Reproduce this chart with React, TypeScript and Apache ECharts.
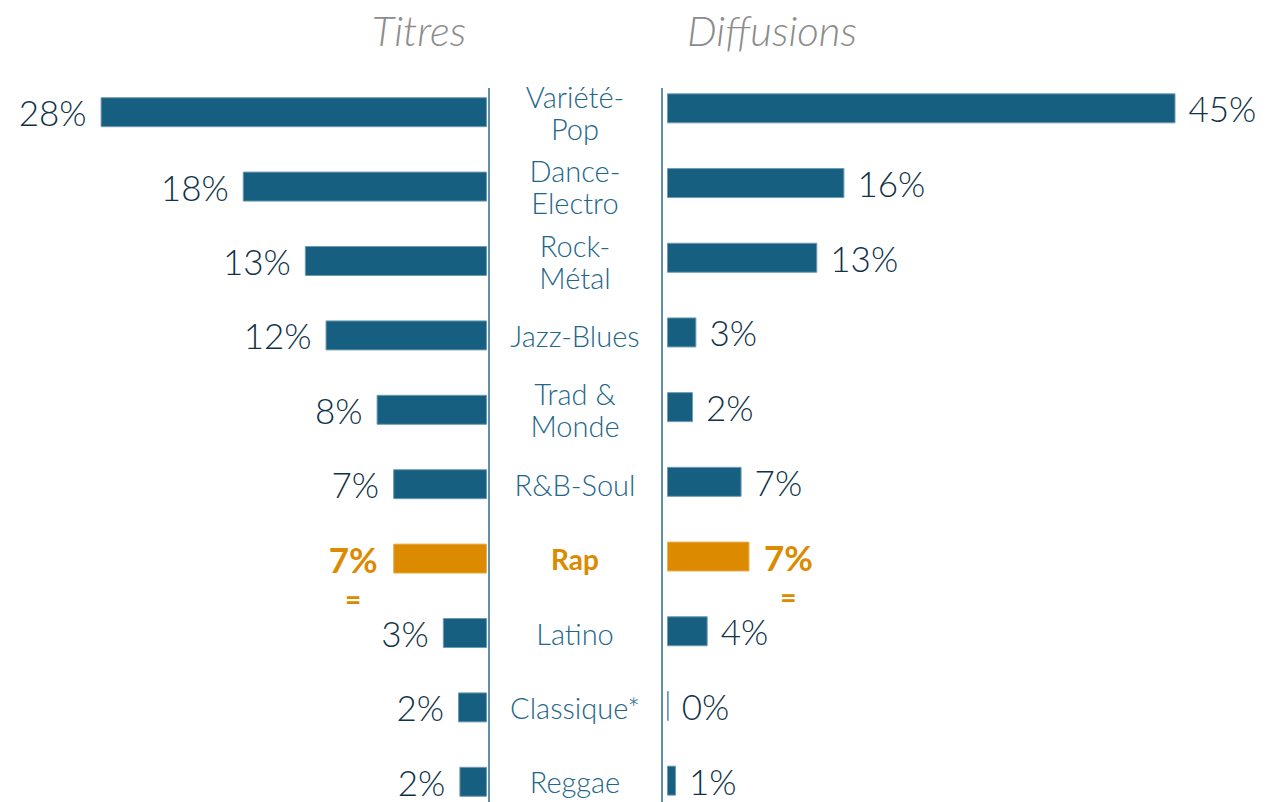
import React, { useEffect, useRef } from "react";
import * as echarts from "echarts";

const categories = [
  "Variété-\nPop",
  "Dance-\nElectro",
  "Rock-\nMétal",
  "Jazz-Blues",
  "Trad &\nMonde",
  "R&B-Soul",
  "Rap",
  "Latino",
  "Classique*",
  "Reggae",
];
const titres = [28.0, 17.7, 13.2, 11.7, 8.0, 6.8, 6.8, 3.2, 2.1, 2.0];
const diffusions = [45.0, 15.7, 13.3, 2.6, 2.3, 6.6, 7.3, 3.6, 0.15, 0.8];
const panelTitles = ["Titres", "Diffusions"];
const highlight = "Rap";
const highlightMark = "=";

const BLUE = "#175f80";
const ORANGE = "#dc8a00";
const VALUE_COLOR = "#0f3247";
const CAT_COLOR = "#23668a";
const FONT = "Lato, 'Noto Sans', sans-serif";

function buildData(values: number[]) {
  return values.map((v, i) => {
    const isHi = categories[i] === highlight;
    return {
      value: v,
      name: categories[i],
      itemStyle: isHi ? { color: ORANGE, borderColor: "#e9b15a" } : undefined,
      label: isHi ? { offset: [0, 20] } : undefined,
    };
  });
}

function labelFormatter(p: any) {
  const txt = Math.round(p.value) + "%";
  if (p.name === highlight) return `{o|${txt}}\n{e|${highlightMark}}`;
  return txt;
}

const richLabel = {
  o: {
    color: ORANGE,
    fontWeight: "bold",
    fontSize: 35,
    fontFamily: FONT,
    lineHeight: 40,
    width: 52,
    align: "center",
  },
  e: {
    color: ORANGE,
    fontWeight: "bold",
    fontSize: 28,
    fontFamily: FONT,
    lineHeight: 40,
    width: 52,
    align: "center",
  },
};

export default function App() {
  const ref = useRef<HTMLDivElement>(null);
  useEffect(() => {
    document.body.style.margin = "0";
    if (!ref.current) return;
    const chart = echarts.init(ref.current, undefined, { renderer: "svg" });
    const option: any = {
      animation: false,
      backgroundColor: "#ffffff",
      grid: [
        { left: 4, width: 483, top: 75, height: 744, outerBoundsMode: "none", containLabel: false },
        { left: 667, width: 565, top: 71, height: 747, outerBoundsMode: "none", containLabel: false },
      ],
      xAxis: [
        { gridIndex: 0, type: "value", min: 0, max: 35, inverse: true, show: false },
        { gridIndex: 1, type: "value", min: 0, max: 50, show: false },
      ],
      yAxis: [
        {
          gridIndex: 0,
          type: "category",
          data: categories,
          inverse: true,
          position: "right",
          axisLine: { show: false },
          axisTick: { show: false },
          splitLine: { show: false },
          axisLabel: {
            margin: 88,
            align: "center",
            color: CAT_COLOR,
            fontSize: 29,
            fontWeight: 300,
            fontFamily: FONT,
            lineHeight: 32,
            formatter: (v: string) => (v === highlight ? `{rap|${v}}` : v),
            rich: {
              rap: {
                color: ORANGE,
                fontWeight: "bold",
                fontSize: 28,
                fontFamily: FONT,
              },
            },
          },
        },
        {
          gridIndex: 1,
          type: "category",
          data: categories,
          inverse: true,
          show: false,
        },
      ],
      series: [
        {
          type: "bar",
          xAxisIndex: 0,
          yAxisIndex: 0,
          data: buildData(titres),
          barWidth: 30,
          itemStyle: { color: BLUE, borderColor: "#6f9bb1", borderWidth: 1 },
          label: {
            show: true,
            position: "left",
            distance: 14,
            color: VALUE_COLOR,
            fontSize: 35,
            fontWeight: 300,
            fontFamily: FONT,
            formatter: labelFormatter,
            rich: richLabel,
          },
        },
        {
          type: "bar",
          xAxisIndex: 1,
          yAxisIndex: 1,
          data: buildData(diffusions),
          barWidth: 30,
          itemStyle: { color: BLUE, borderColor: "#6f9bb1", borderWidth: 1 },
          label: {
            show: true,
            position: "right",
            distance: 13,
            color: VALUE_COLOR,
            fontSize: 35,
            fontWeight: 300,
            fontFamily: FONT,
            formatter: labelFormatter,
            rich: richLabel,
          },
        },
      ],
      graphic: [
        {
          type: "text",
          x: 419,
          y: 30,
          style: {
            text: panelTitles[0],
            fill: "#8c8c8c",
            fontSize: 42,
            fontStyle: "italic",
            fontWeight: 300,
            fontFamily: FONT,
            align: "center",
            verticalAlign: "middle",
          },
        },
        {
          type: "text",
          x: 772,
          y: 30,
          style: {
            text: panelTitles[1],
            fill: "#8c8c8c",
            fontSize: 42,
            fontStyle: "italic",
            fontWeight: 300,
            fontFamily: FONT,
            align: "center",
            verticalAlign: "middle",
          },
        },
        {
          type: "line",
          shape: { x1: 489, y1: 88, x2: 489, y2: 802 },
          style: { stroke: "#2d6d8e", lineWidth: 1.5 },
        },
        {
          type: "line",
          shape: { x1: 662, y1: 88, x2: 662, y2: 802 },
          style: { stroke: "#2d6d8e", lineWidth: 1.5 },
        },
      ],
    };
    chart.setOption(option);
    return () => chart.dispose();
  }, []);
  return <div ref={ref} style={{ width: 1267, height: 802 }} />;
}
